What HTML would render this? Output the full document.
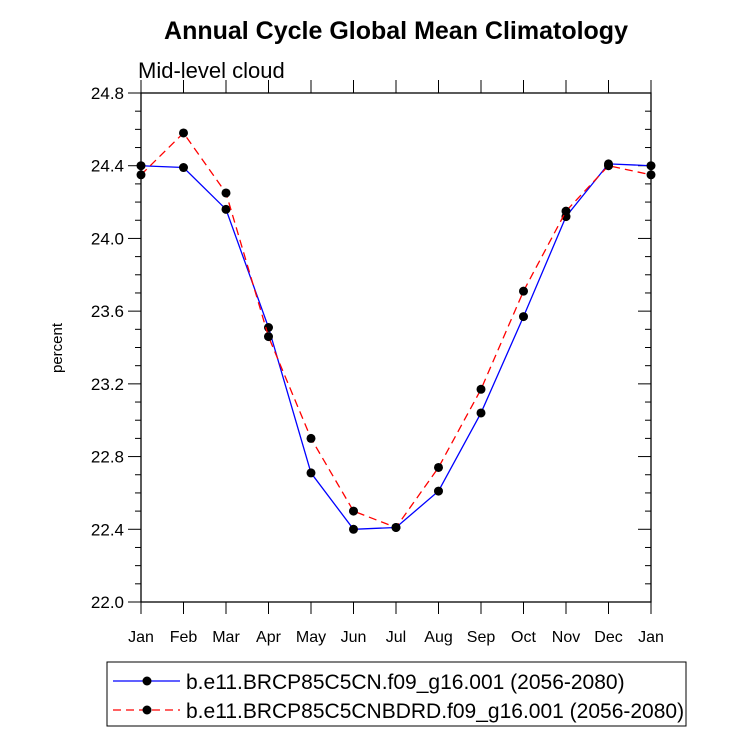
<!DOCTYPE html>
<html><head><meta charset="utf-8"><style>body{margin:0;background:#fff}svg{display:block;font-family:"Liberation Sans",sans-serif}</style></head>
<body>
<svg id="chart" width="733" height="751">
<text x="396" y="39" text-anchor="middle" font-size="25" font-weight="bold">Annual Cycle Global Mean Climatology</text>
<text x="138" y="78" font-size="22">Mid-level cloud</text>
<text x="0" y="0" transform="translate(62,348) rotate(-90)" text-anchor="middle" font-size="15">percent</text>
<g id="axes"></g>
<g id="series"></g>
<rect x="107" y="662" width="579" height="64" fill="none" stroke="#000" stroke-width="1"/>
<g>
<line x1="113" y1="681" x2="180" y2="681" stroke="#00f" stroke-width="1.3"/>
<circle cx="147" cy="681" r="4.5"/>
<text x="186" y="689" font-size="21">b.e11.BRCP85C5CN.f09_g16.001 (2056-2080)</text></g>
<g>
<line x1="113" y1="710" x2="180" y2="710" stroke="#f00" stroke-width="1.3" stroke-dasharray="8,5"/>
<circle cx="147" cy="710" r="4.5"/>
<text x="186" y="718" font-size="21">b.e11.BRCP85C5CNBDRD.f09_g16.001 (2056-2080)</text></g>
</svg>
<script>
const months=["Jan","Feb","Mar","Apr","May","Jun","Jul","Aug","Sep","Oct","Nov","Dec","Jan"];
const yTicks=["22.0","22.4","22.8","23.2","23.6","24.0","24.4","24.8"];
const blueVals=[24.40,24.39,24.16,23.51,22.71,22.40,22.41,22.61,23.04,23.57,24.12,24.41,24.40];
const redVals=[24.35,24.58,24.25,23.46,22.90,22.50,22.41,22.74,23.17,23.71,24.15,24.40,24.35];
const L=141,R=651,T=93,B=602,ymin=22.0,ymax=24.8;
const xs=i=>L+(R-L)*i/(months.length-1);
const ys=v=>B-(v-ymin)/(ymax-ymin)*(B-T);
const NS="http://www.w3.org/2000/svg";
function mk(t,a,p){const e=document.createElementNS(NS,t);for(const k in a)e.setAttribute(k,a[k]);p.appendChild(e);return e;}
const ax=document.getElementById('axes');
const fr=mk('rect',{x:L,y:T,width:R-L,height:B-T,fill:'none',stroke:'#000','stroke-width':1.3},ax);


for(let v=22.0;v<=24.801;v+=0.1){
  const y=ys(v);const maj=Math.round(v*10)%4===0;const len=maj?13:6;
  mk('line',{x1:L-len,y1:y,x2:L,y2:y,stroke:'#000'},ax);
  mk('line',{x1:R-len,y1:y,x2:R,y2:y,stroke:'#000'},ax);
}
yTicks.forEach(t=>{const e=mk('text',{x:L-17,y:ys(parseFloat(t))+6,'text-anchor':'end','font-size':17},ax);e.textContent=t;

});
months.forEach((m,i)=>{const x=xs(i);
mk('line',{x1:x,y1:B,x2:x,y2:B+12,stroke:'#000'},ax);
mk('line',{x1:x,y1:T,x2:x,y2:T-13,stroke:'#000'},ax);
const e=mk('text',{x:x,y:B+40,'text-anchor':'middle','font-size':16},ax);e.textContent=m;

});
const sg=document.getElementById('series');
function series(vals,color,dash,name){
  const g=mk('g',{},sg);
  
  
  mk('polyline',{points:vals.map((v,i)=>xs(i)+','+ys(v)).join(' '),fill:'none',stroke:color,'stroke-width':1.3,'stroke-dasharray':dash},g);
  vals.forEach((v,i)=>{const c=mk('circle',{cx:xs(i),cy:ys(v),r:4.5,fill:'#000'},g);
  
  });
}
series(blueVals,'#00f','none','series-blue');
series(redVals,'#f00','8,5','series-red');
</script>
</body></html>
